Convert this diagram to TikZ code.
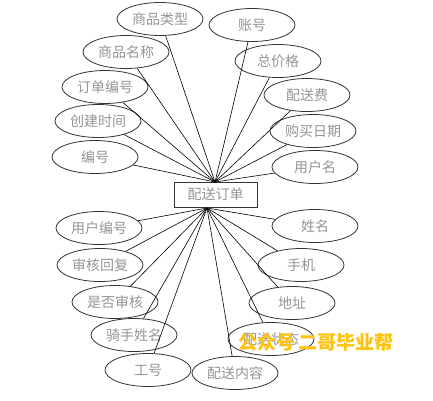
\documentclass[tikz,border=0pt]{standalone}
\usepackage{fontspec}
\newfontfamily\cjk{Noto Sans CJK SC}
\usetikzlibrary{shapes.geometric}
\definecolor{txtgray}{HTML}{959595}
\definecolor{linegray}{HTML}{333333}
\definecolor{wmark}{HTML}{FFC20E}
\begin{document}
\begin{tikzpicture}[x=1pt,y=-1pt,
  attr/.style={ellipse,draw=linegray,line width=0.8pt,minimum width=86pt,minimum height=33pt,inner sep=0pt,text=txtgray,font=\cjk\fontsize{14}{16}\selectfont},
  ent/.style={rectangle,draw=linegray,line width=0.8pt,minimum width=83pt,minimum height=25pt,inner sep=0pt,text=txtgray,font=\cjk\fontsize{14}{16}\selectfont},
  link/.style={draw=black,line width=0.6pt}]
\useasboundingbox (0,0) rectangle (433,400);
\node[ent] (order) at (215.5,194.5) {配送订单};
\coordinate (top) at (215,182);
\coordinate (bot) at (207,208);
% top-left
\node[attr] (a1) at (160,19) {商品类型};
\node[attr] (a2) at (126,52) {商品名称};
\node[attr] (a3) at (105,87) {订单编号};
\node[attr] (a4) at (98,121) {创建时间};
\node[attr] (a5) at (95,157) {编号};
% top-right
\node[attr] (b1) at (252,25) {账号};
\node[attr] (b2) at (278,61) {总价格};
\node[attr] (b3) at (307,95) {配送费};
\node[attr] (b4) at (313,131) {购买日期};
\node[attr] (b5) at (315,167) {用户名};
% bottom-left
\node[attr] (c1) at (99,228) {用户编号};
\node[attr] (c2) at (100,265) {审核回复};
\node[attr] (c3) at (115,302) {是否审核};
\node[attr] (c4) at (134,335) {骑手姓名};
\node[attr] (c5) at (148,370) {工号};
% bottom-right
\node[attr] (d1) at (315,226) {姓名};
\node[attr] (d2) at (301,265) {手机};
\node[attr] (d3) at (292,303) {地址};
\node[attr] (d4) at (271,339) {配送状态};
\node[attr] (d5) at (235,373) {配送内容};
\foreach \n in {a1,a2,a3,a4,a5,b1,b2,b3,b4,b5}{\draw[link] (top) -- (\n);}
\foreach \n in {c1,c2,c3,c4,c5,d1,d2,d3,d4,d5}{\draw[link] (bot) -- (\n);}
\node[text=wmark,font=\cjk\bfseries\fontsize{19}{22}\selectfont,inner sep=0pt,anchor=center] (wm) at (316,342) {公众号\,二哥毕业帮};
\end{tikzpicture}
\end{document}
